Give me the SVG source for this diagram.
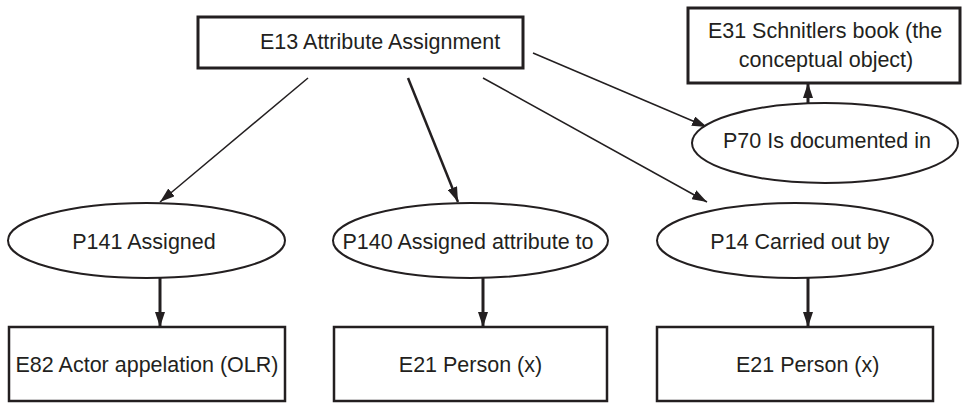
<svg xmlns="http://www.w3.org/2000/svg" width="962" height="403" viewBox="0 0 962 403">
  <style>
    .box { fill: #ffffff; stroke: #231f20; stroke-width: 2.5; }
    .box-top { fill: #ffffff; stroke: #231f20; stroke-width: 3; }
    .prop { fill: #ffffff; stroke: #231f20; stroke-width: 2; }
    .label { font-family: "Liberation Sans", Arial, sans-serif; font-size: 21.5px; fill: #231f20; }
    .mid { text-anchor: middle; }
    .edge { fill: none; stroke: #231f20; stroke-width: 1.5; }
    .edge-bold { fill: none; stroke: #231f20; stroke-width: 2.5; }
    .edge-heavy { fill: none; stroke: #231f20; stroke-width: 3; }
  </style>
  <defs>
    <marker id="arrow" markerUnits="userSpaceOnUse" markerWidth="15" markerHeight="10" refX="15" refY="5" orient="auto">
      <path d="M0,0 L15,5 L0,10 z" fill="#231f20"/>
    </marker>
  </defs>

  <rect width="962" height="403" fill="#ffffff"/>

  <!-- connectors -->
  <g id="connectors">
    <line class="edge" x1="308" y1="78" x2="160" y2="202" marker-end="url(#arrow)"/>
    <line class="edge-bold" x1="408" y1="78" x2="458" y2="202" marker-end="url(#arrow)"/>
    <line class="edge" x1="483" y1="78" x2="707" y2="202" marker-end="url(#arrow)"/>
    <line class="edge" x1="533" y1="53" x2="707" y2="127" marker-end="url(#arrow)"/>
    <line class="edge-heavy" x1="808" y1="103" x2="808" y2="83" marker-end="url(#arrow)"/>
    <line class="edge-heavy" x1="160" y1="278" x2="160" y2="327" marker-end="url(#arrow)"/>
    <line class="edge-heavy" x1="483" y1="278" x2="483" y2="327" marker-end="url(#arrow)"/>
    <line class="edge-heavy" x1="808" y1="278" x2="808" y2="327" marker-end="url(#arrow)"/>
  </g>

  <!-- entity and property nodes -->
  <g id="e13">
    <rect class="box-top" x="198" y="17" width="325" height="51"/>
    <text class="label" x="260" y="49">E13 Attribute Assignment</text>
  </g>

  <g id="e31">
    <rect class="box-top" x="688" y="8" width="272" height="75"/>
    <text class="label mid" x="825" y="38">E31 Schnitlers book (the</text>
    <text class="label mid" x="826" y="67">conceptual object)</text>
  </g>

  <g id="p70">
    <ellipse class="prop" cx="825" cy="143" rx="133" ry="40"/>
    <text class="label" x="723" y="148">P70 Is documented in</text>
  </g>

  <g id="p141">
    <ellipse class="prop" cx="146.5" cy="240.5" rx="138.5" ry="37.5"/>
    <text class="label mid" x="144" y="249">P141 Assigned</text>
  </g>

  <g id="p140">
    <ellipse class="prop" cx="470.5" cy="240.5" rx="137.5" ry="37.5"/>
    <text class="label mid" x="468" y="249">P140 Assigned attribute to</text>
  </g>

  <g id="p14">
    <ellipse class="prop" cx="795" cy="240.5" rx="138" ry="37.5"/>
    <text class="label mid" x="800" y="249">P14 Carried out by</text>
  </g>

  <g id="e82">
    <rect class="box" x="9" y="327" width="276" height="74"/>
    <text class="label mid" x="147" y="372">E82 Actor appelation (OLR)</text>
  </g>

  <g id="e21-a">
    <rect class="box" x="334" y="327" width="273" height="74"/>
    <text class="label mid" x="470.5" y="372">E21 Person (x)</text>
  </g>

  <g id="e21-b">
    <rect class="box" x="657" y="327" width="276" height="74"/>
    <text class="label" x="736" y="372">E21 Person (x)</text>
  </g>
</svg>
